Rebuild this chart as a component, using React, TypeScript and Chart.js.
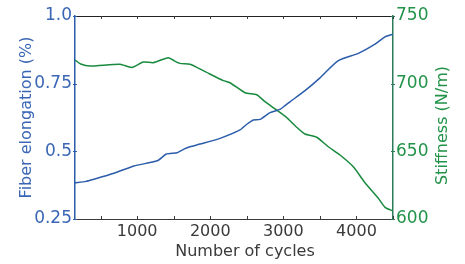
import React, { useEffect, useRef } from 'react';
import { Chart, registerables } from 'chart.js';

Chart.register(...registerables);

// Fiber elongation (%) vs number of cycles
const elongCycles = [150, 300, 410, 683, 957, 1276, 1400, 1550, 1640, 1723, 1860, 2134, 2407, 2500, 2589, 2680, 2818, 2954, 3023, 3091, 3296, 3478, 3752, 4025, 4254, 4391, 4500];
const elongation = [0.384, 0.389, 0.397, 0.419, 0.446, 0.465, 0.49, 0.495, 0.508, 0.517, 0.527, 0.548, 0.579, 0.6, 0.616, 0.618, 0.643, 0.655, 0.669, 0.683, 0.724, 0.766, 0.835, 0.862, 0.896, 0.923, 0.933];

// Stiffness (N/m) vs number of cycles
const stiffCycles = [150, 228, 355, 766, 926, 1084, 1221, 1426, 1504, 1586, 1723, 1905, 2179, 2270, 2476, 2636, 2749, 2909, 3023, 3091, 3183, 3296, 3456, 3615, 3775, 3957, 4117, 4299, 4391, 4500];
const stiffness = [717.5, 714.5, 713, 714.3, 712, 716, 715.5, 719.2, 717, 715, 714.3, 709.6, 702.2, 700.7, 693.3, 691.8, 686.7, 680.5, 676, 672.6, 667.8, 662.8, 660.4, 653.4, 647.3, 638.6, 626.8, 615.3, 608.6, 606];

const xTickMarks = [500, 1000, 1500, 2000, 2500, 3000, 3500, 4000, 4500];
const xTickLabels = [1000, 2000, 3000, 4000];
const elongTicks = [0.25, 0.5, 0.75, 1.0];
const elongTickLabels = ['0.25', '0.5', '0.75', '1.0'];
const stiffTicks = [600, 650, 700, 750];
const stiffTickLabels = ['600', '650', '700', '750'];

const BLUE = '#2c5daa';
const BLUE_TEXT = '#3a66b5';
const GREEN = '#188a3e';
const GREEN_TEXT = '#23934a';
const GREEN_AXIS = '#2c7c5c';
const GRAY = '#3a3a3a';
const FONT = '"DejaVu Sans", sans-serif';

const framePlugin = {
  id: 'frame',
  afterDraw(chart: any) {
    const { ctx, chartArea, scales } = chart;
    const { left, right, top, bottom } = chartArea;
    ctx.save();
    ctx.lineWidth = 1;
    // top border
    ctx.strokeStyle = '#222';
    ctx.beginPath();
    ctx.moveTo(left, top + 0.5);
    ctx.lineTo(right, top + 0.5);
    ctx.stroke();
    // x tick marks (inward, bottom and top)
    ctx.strokeStyle = GRAY;
    scales.x.ticks.forEach((t: any) => {
      const px = Math.round(scales.x.getPixelForValue(t.value)) + 0.5;
      ctx.beginPath();
      ctx.moveTo(px, bottom);
      ctx.lineTo(px, bottom - 3);
      ctx.moveTo(px, top);
      ctx.lineTo(px, top + 3);
      ctx.stroke();
    });
    // y tick marks
    ctx.strokeStyle = BLUE;
    scales.y.ticks.forEach((t: any) => {
      const py = Math.round(scales.y.getPixelForValue(t.value)) + 0.5;
      ctx.beginPath();
      ctx.moveTo(left - 2, py);
      ctx.lineTo(left + 2, py);
      ctx.stroke();
    });
    ctx.strokeStyle = GREEN_AXIS;
    scales.y2.ticks.forEach((t: any) => {
      const py = Math.round(scales.y2.getPixelForValue(t.value)) + 0.5;
      ctx.beginPath();
      ctx.moveTo(right - 2, py);
      ctx.lineTo(right + 2, py);
      ctx.stroke();
    });
    // titles
    ctx.font = '16px ' + FONT;
    ctx.textAlign = 'center';
    ctx.textBaseline = 'middle';
    ctx.fillStyle = GRAY;
    ctx.fillText('Number of cycles', (left + right) / 2 + 11, chart.height - 12);
    ctx.save();
    ctx.translate(chart.width - 22, (top + bottom) / 2 + 8);
    ctx.rotate(-Math.PI / 2);
    ctx.fillStyle = GREEN_TEXT;
    ctx.fillText('Stiffness (N/m)', 0, 0);
    ctx.restore();
    ctx.restore();
  },
};

export default function App() {
  const ref = useRef<HTMLCanvasElement | null>(null);

  useEffect(() => {
    if (!ref.current) return;
    const chart = new Chart(ref.current, {
      type: 'line',
      data: {
        datasets: [
          {
            label: 'Fiber elongation (%)',
            data: elongCycles.map((c, i) => ({ x: c, y: elongation[i] })),
            borderColor: BLUE,
            borderWidth: 1.5,
            pointRadius: 0,
            tension: 0.2,
            yAxisID: 'y',
          },
          {
            label: 'Stiffness (N/m)',
            data: stiffCycles.map((c, i) => ({ x: c, y: stiffness[i] })),
            borderColor: GREEN,
            borderWidth: 1.5,
            pointRadius: 0,
            tension: 0.2,
            yAxisID: 'y2',
          },
        ],
      },
      options: {
        responsive: false,
        animation: false,
        layout: { padding: { top: 16, left: 0, right: 0, bottom: 0 } },
        plugins: { legend: { display: false }, tooltip: { enabled: false } },
        scales: {
          x: {
            type: 'linear',
            min: 150,
            max: 4500,
            afterFit: (s: any) => { s.height = 45; },
            afterBuildTicks: (s: any) => { s.ticks = xTickMarks.map((v) => ({ value: v })); },
            grid: { display: false, drawTicks: false },
            border: { display: true, color: GRAY, width: 1 },
            ticks: {
              autoSkip: false,
              maxRotation: 0,
              padding: 3,
              color: GRAY,
              font: { family: FONT, size: 16 },
              callback: (v: any) => (xTickLabels.includes(v) ? String(v) : ''),
            },
          },
          y: {
            type: 'linear',
            position: 'left',
            min: 0.25,
            max: 1.0,
            afterFit: (s: any) => { s.width = 75; },
            afterBuildTicks: (s: any) => { s.ticks = elongTicks.map((v) => ({ value: v })); },
            grid: { display: false, drawTicks: false },
            border: { display: true, color: BLUE, width: 1.5 },
            ticks: {
              padding: 3,
              color: BLUE_TEXT,
              font: { family: FONT, size: 17 },
              callback: (v: any) => elongTickLabels[elongTicks.indexOf(v)] ?? '',
            },
            title: {
              display: true,
              text: 'Fiber elongation (%)',
              color: BLUE_TEXT,
              font: { family: FONT, size: 16 },
              padding: { top: 17, bottom: 0 },
            },
          },
          y2: {
            type: 'linear',
            position: 'right',
            min: 600,
            max: 750,
            afterFit: (s: any) => { s.width = 72; },
            afterBuildTicks: (s: any) => { s.ticks = stiffTicks.map((v) => ({ value: v })); },
            grid: { display: false, drawTicks: false },
            border: { display: true, color: GREEN_AXIS, width: 1.5 },
            ticks: {
              padding: 3,
              color: GREEN_TEXT,
              font: { family: FONT, size: 17 },
              callback: (v: any) => stiffTickLabels[stiffTicks.indexOf(v)] ?? '',
            },
          },
        },
      },
      plugins: [framePlugin],
    });
    return () => chart.destroy();
  }, []);

  return (
    <div style={{ position: 'fixed', left: 0, top: 0, width: 465, height: 264, background: '#fff' }}>
      <canvas ref={ref} width={465} height={264} style={{ display: 'block' }} />
    </div>
  );
}
